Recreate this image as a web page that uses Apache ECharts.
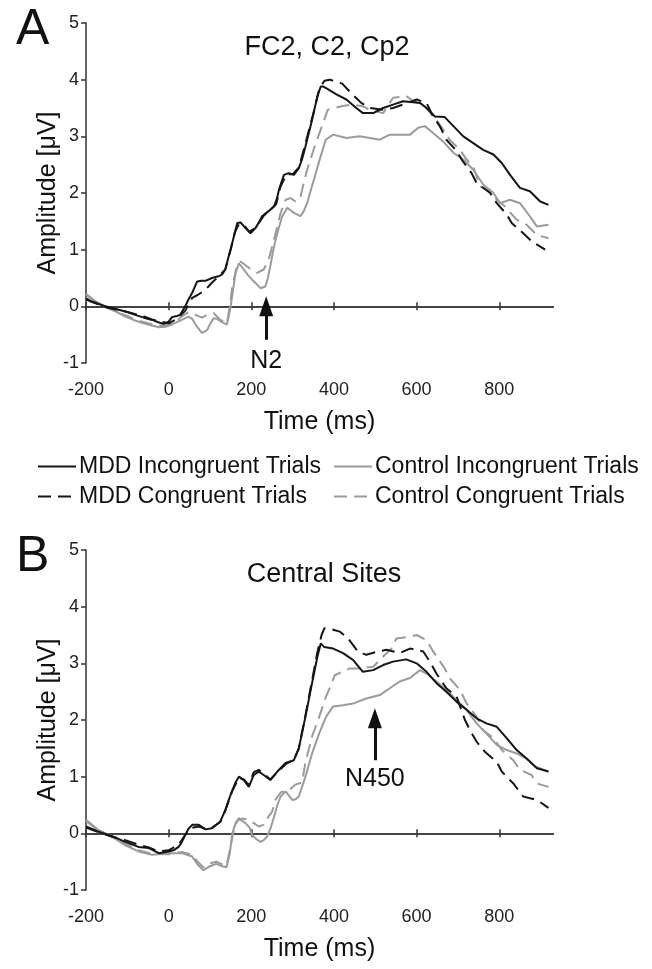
<!DOCTYPE html>
<html>
<head>
<meta charset="utf-8">
<script src="https://cdn.jsdelivr.net/npm/echarts@6/dist/echarts.min.js"></script>
<style>
html,body{margin:0;padding:0;background:#fff;}
#chart{width:652px;height:969px;}
</style>
</head>
<body>
<div id="chart"></div>
<script>
// ---------- DATA ----------
const seriesNames = ['MDD Incongruent Trials', 'MDD Congruent Trials', 'Control Incongruent Trials', 'Control Congruent Trials'];
const panelTitles = ['FC2, C2, Cp2', 'Central Sites'];
const panelLetters = ['A', 'B'];
const xTicks = [-200, 0, 200, 400, 600, 800];
const yTicks = [-1, 0, 1, 2, 3, 4, 5];
const annotations = [
  { label: 'N2', time: 236, from: -0.59, to: 0.0 },
  { label: 'N450', time: 499, from: 1.29, to: 2.03 }
];

// Panel A: [time ms, amplitude µV]
const aMddInc = [[-200,0.14],[-185,0.08],[-153,0],[-121,-0.06],[-100,-0.1],[-81,-0.15],[-60,-0.2],[-40,-0.24],[-25,-0.28],[-12,-0.31],[0,-0.27],[8,-0.19],[20,-0.17],[28,-0.15],[40,0],[48,0.12],[57,0.24],[69,0.44],[80,0.45],[89,0.45],[105,0.5],[120,0.53],[129,0.56],[137,0.65],[146,0.9],[154,1.12],[160,1.3],[166,1.47],[174,1.48],[186,1.38],[198,1.29],[210,1.38],[220,1.5],[226,1.59],[242,1.68],[255,1.76],[262,1.9],[267,2.06],[279,2.32],[291,2.35],[303,2.32],[315,2.44],[323,2.6],[331,2.82],[347,3.29],[360,3.71],[368,3.88],[373,3.88],[381,3.85],[406,3.74],[430,3.65],[454,3.5],[470,3.41],[495,3.41],[519,3.5],[543,3.56],[567,3.62],[592,3.6],[608,3.59],[624,3.5],[644,3.35],[668,3.34],[689,3.18],[713,3.0],[737,2.88],[761,2.76],[786,2.68],[806,2.53],[826,2.32],[850,2.09],[874,2.03],[899,1.85],[919,1.79]];
const aMddCon = [[-200,0.12],[-175,0.05],[-150,-0.02],[-125,-0.06],[-100,-0.1],[-80,-0.14],[-60,-0.18],[-40,-0.23],[-20,-0.27],[0,-0.3],[20,-0.22],[40,-0.08],[57,0.15],[70,0.2],[89,0.29],[105,0.42],[120,0.52],[137,0.65],[150,1.0],[160,1.3],[170,1.45],[180,1.45],[195,1.32],[210,1.38],[230,1.6],[250,1.73],[260,1.8],[270,2.1],[285,2.33],[300,2.33],[315,2.45],[330,2.85],[350,3.4],[365,3.85],[377,3.98],[390,4.0],[420,3.93],[442,3.76],[466,3.59],[487,3.5],[519,3.47],[543,3.5],[567,3.56],[600,3.65],[624,3.59],[640,3.35],[656,3.18],[672,2.94],[697,2.74],[709,2.59],[733,2.35],[745,2.18],[778,2.0],[794,1.82],[818,1.62],[830,1.47],[858,1.29],[878,1.15],[911,1.0]];
const aCtlInc = [[-200,0.22],[-178,0.09],[-145,-0.03],[-125,-0.1],[-105,-0.18],[-85,-0.24],[-65,-0.29],[-45,-0.33],[-24,-0.37],[-8,-0.36],[8,-0.32],[20,-0.28],[32,-0.24],[48,-0.18],[57,-0.22],[65,-0.32],[75,-0.42],[81,-0.47],[93,-0.42],[101,-0.3],[109,-0.21],[117,-0.22],[125,-0.26],[135,-0.3],[141,-0.32],[146,-0.15],[150,0],[156,0.3],[162,0.59],[170,0.76],[182,0.65],[192,0.55],[202,0.47],[212,0.4],[222,0.32],[234,0.35],[240,0.5],[246,0.71],[252,0.95],[259,1.18],[267,1.4],[275,1.59],[287,1.74],[303,1.65],[319,1.59],[327,1.68],[335,1.82],[346,2.1],[356,2.35],[365,2.58],[380,2.94],[398,3.03],[430,2.97],[462,3.0],[487,2.97],[511,2.94],[535,3.03],[559,3.03],[584,3.03],[604,3.15],[620,3.18],[640,3.06],[664,2.91],[689,2.71],[713,2.59],[737,2.41],[761,2.15],[786,2.0],[802,1.82],[826,1.88],[850,1.82],[874,1.59],[891,1.41],[919,1.44]];
const aCtlCon = [[-200,0.2],[-175,0.08],[-150,-0.02],[-125,-0.1],[-100,-0.17],[-75,-0.25],[-50,-0.3],[-25,-0.34],[0,-0.33],[20,-0.25],[32,-0.18],[48,-0.1],[65,-0.15],[81,-0.2],[93,-0.15],[109,-0.12],[125,-0.24],[141,-0.29],[148,0],[154,0.35],[166,0.74],[174,0.79],[194,0.68],[214,0.59],[230,0.65],[242,0.82],[255,1.18],[271,1.65],[283,1.88],[295,1.91],[307,1.85],[319,1.94],[335,2.41],[356,2.88],[372,3.2],[385,3.47],[418,3.53],[442,3.56],[470,3.53],[487,3.47],[519,3.41],[543,3.68],[575,3.71],[592,3.62],[616,3.56],[648,3.29],[664,3.12],[680,2.94],[705,2.76],[721,2.59],[737,2.47],[753,2.12],[778,2.03],[794,1.88],[814,1.76],[842,1.53],[866,1.44],[891,1.26],[919,1.2]];

// Panel B
const bMddInc = [[-200,0.12],[-170,0.03],[-137,-0.05],[-105,-0.15],[-73,-0.24],[-48,-0.26],[-24,-0.35],[0,-0.32],[12,-0.3],[24,-0.24],[32,-0.15],[40,-0.03],[48,0.08],[57,0.15],[73,0.15],[89,0.07],[105,0.09],[125,0.21],[137,0.41],[146,0.6],[154,0.76],[162,0.9],[170,1.0],[182,0.94],[194,0.82],[206,1.03],[218,1.09],[230,1.03],[246,0.94],[263,1.09],[283,1.24],[303,1.29],[315,1.5],[331,2.06],[347,2.65],[360,3.12],[368,3.35],[376,3.29],[398,3.26],[422,3.18],[446,3.06],[470,2.85],[495,2.88],[519,2.97],[543,3.03],[575,3.07],[600,3.0],[624,2.85],[648,2.65],[672,2.5],[697,2.32],[721,2.18],[745,2.03],[769,1.94],[794,1.88],[818,1.68],[842,1.47],[866,1.32],[891,1.15],[919,1.09]];
const bMddCon = [[-200,0.1],[-170,0.02],[-137,-0.06],[-105,-0.12],[-73,-0.2],[-48,-0.25],[-24,-0.32],[0,-0.3],[24,-0.2],[40,-0.03],[57,0.1],[73,0.12],[89,0.08],[105,0.1],[125,0.2],[137,0.4],[154,0.75],[170,0.98],[182,0.95],[194,0.85],[206,1.08],[218,1.12],[230,1.05],[246,0.95],[263,1.08],[283,1.22],[303,1.3],[315,1.5],[331,2.08],[347,2.7],[360,3.2],[370,3.5],[377,3.62],[395,3.6],[414,3.56],[434,3.44],[458,3.21],[478,3.15],[507,3.21],[527,3.24],[559,3.18],[584,3.26],[616,3.21],[632,3.03],[648,2.82],[672,2.56],[697,2.41],[707,2.2],[717,2.0],[729,1.82],[745,1.62],[765,1.44],[794,1.26],[806,1.09],[834,0.88],[858,0.65],[891,0.59],[919,0.45]];
const bCtlInc = [[-200,0.24],[-170,0.06],[-137,-0.06],[-105,-0.21],[-73,-0.32],[-40,-0.38],[0,-0.35],[32,-0.35],[57,-0.41],[70,-0.55],[84,-0.65],[100,-0.58],[115,-0.54],[130,-0.58],[140,-0.6],[148,-0.35],[154,0],[162,0.18],[170,0.27],[178,0.22],[186,0.18],[196,0.1],[202,-0.03],[212,-0.1],[222,-0.15],[230,-0.12],[238,-0.06],[247,0.1],[255,0.29],[263,0.5],[271,0.65],[283,0.74],[299,0.59],[307,0.6],[315,0.65],[331,1.0],[347,1.41],[364,1.76],[381,2.06],[398,2.24],[422,2.26],[446,2.29],[478,2.38],[511,2.44],[535,2.56],[559,2.68],[584,2.74],[608,2.88],[624,2.82],[648,2.68],[672,2.53],[697,2.35],[721,2.18],[745,1.94],[769,1.76],[794,1.56],[818,1.47],[842,1.41],[866,1.32],[887,1.18],[919,1.09]];
const bCtlCon = [[-200,0.22],[-170,0.05],[-137,-0.05],[-105,-0.18],[-73,-0.3],[-40,-0.36],[0,-0.37],[32,-0.33],[57,-0.38],[70,-0.5],[84,-0.6],[100,-0.53],[115,-0.5],[130,-0.55],[140,-0.57],[148,-0.3],[156,0],[166,0.22],[178,0.26],[194,0.24],[206,0.18],[218,0.12],[230,0.15],[242,0.3],[250,0.38],[259,0.6],[271,0.72],[283,0.76],[291,0.76],[307,0.86],[323,0.9],[331,1.25],[347,1.71],[364,2.05],[380,2.4],[392,2.6],[402,2.79],[438,2.91],[462,2.91],[495,2.94],[519,3.12],[539,3.26],[551,3.44],[584,3.47],[600,3.5],[624,3.41],[640,3.21],[668,2.91],[680,2.74],[705,2.53],[721,2.29],[745,2.06],[761,1.82],[786,1.68],[806,1.47],[834,1.29],[850,1.12],[878,1.03],[891,0.88],[919,0.82]];

const panelData = [
  [aMddInc, aMddCon, aCtlInc, aCtlCon],
  [bMddInc, bMddCon, bCtlInc, bCtlCon]
];

// ---------- STYLE / LAYOUT ----------
const FONT = '"Liberation Sans", Arial, Helvetica, sans-serif';
const BLACK = '#151515';
const GRAY = '#9b9b9b';
const AXIS = '#333';
const seriesStyle = [
  { color: BLACK, type: 'solid' },
  { color: BLACK, type: [13, 7] },
  { color: GRAY, type: 'solid' },
  { color: GRAY, type: [13, 7] }
];
const grids = [
  { left: 86, right: 99, top: 23, height: 340 },
  { left: 86, right: 99, top: 550, height: 340 }
];

const xAxes = [], yAxes = [], series = [], titles = [];
grids.forEach((g, gi) => {
  // labels + name at bottom
  xAxes.push({
    gridIndex: gi, type: 'value', min: -200, max: 930, position: 'bottom',
    axisLine: { show: false, onZero: false }, axisTick: { show: false }, splitLine: { show: false },
    axisLabel: { customValues: xTicks, fontSize: 18, color: '#222', margin: 18, fontFamily: FONT },
    name: 'Time (ms)', nameLocation: 'middle', nameGap: 47,
    nameTextStyle: { fontSize: 25, color: '#111', fontFamily: FONT }
  });
  // zero line with downward ticks
  xAxes.push({
    gridIndex: gi, type: 'value', min: -200, max: 930, position: 'bottom',
    axisLine: { show: true, onZero: true, onZeroAxisIndex: gi, lineStyle: { color: '#444', width: 2 } },
    axisTick: { show: true, customValues: xTicks, length: 4, inside: false, lineStyle: { color: '#333', width: 1.5 } },
    axisLabel: { show: false }, splitLine: { show: false }
  });
  // zero line with upward ticks
  xAxes.push({
    gridIndex: gi, type: 'value', min: -200, max: 930, position: 'bottom',
    axisLine: { show: true, onZero: true, onZeroAxisIndex: gi, lineStyle: { color: '#444', width: 2 } },
    axisTick: { show: true, customValues: xTicks, length: 4, inside: true, lineStyle: { color: '#333', width: 1.5 } },
    axisLabel: { show: false }, splitLine: { show: false }
  });
  yAxes.push({
    gridIndex: gi, type: 'value', min: -1, max: 5, interval: 1, position: 'left',
    axisLine: { show: true, onZero: false, lineStyle: { color: AXIS, width: 1.5 } },
    axisTick: { show: true, length: 5, lineStyle: { color: AXIS, width: 1.5 } },
    axisLabel: { fontSize: 18, color: '#222', margin: 7, fontFamily: FONT },
    splitLine: { show: false },
    name: 'Amplitude [μV]', nameLocation: 'middle', nameGap: 25, nameMoveOverlap: false,
    nameTextStyle: { fontSize: 25, color: '#111', fontFamily: FONT }
  });

  const order = [2, 3, 0, 1]; // gray first, black on top
  order.forEach(si => {
    const s = {
      type: 'line', name: seriesNames[si], xAxisIndex: gi * 3, yAxisIndex: gi,
      data: panelData[gi][si], symbol: 'none', showSymbol: false, smooth: false,
      animation: false, silent: true,
      lineStyle: { color: seriesStyle[si].color, width: 2, type: seriesStyle[si].type },
      itemStyle: { color: seriesStyle[si].color }
    };
    if (si === 0) {
      const an = annotations[gi];
      s.markLine = {
        silent: true, animation: false,
        symbol: ['none', 'triangle'], symbolSize: [14, 20],
        lineStyle: { color: '#111', width: 3, type: 'solid' },
        label: { show: true, position: 'start', formatter: an.label, fontSize: 25, color: '#111', distance: gi === 0 ? 9 : 6, fontFamily: FONT },
        data: [[{ coord: [an.time, an.from] }, { coord: [an.time, an.to] }]]
      };
    }
    series.push(s);
  });
});

titles.push({ text: panelLetters[0], left: 11, top: 0, textStyle: { fontSize: 50, fontWeight: 'normal', color: '#111', fontFamily: FONT } });
titles.push({ text: panelTitles[0], left: 322, top: 29, textAlign: 'center', textStyle: { fontSize: 27, fontWeight: 'normal', color: '#111', fontFamily: FONT } });
titles.push({ text: panelLetters[1], left: 11, top: 527, textStyle: { fontSize: 50, fontWeight: 'normal', color: '#111', fontFamily: FONT } });
titles.push({ text: panelTitles[1], left: 319, top: 556, textAlign: 'center', textStyle: { fontSize: 27, fontWeight: 'normal', color: '#111', fontFamily: FONT } });

const legendCommon = {
  orient: 'vertical', top: 455, itemWidth: 38, itemHeight: 14, itemGap: 7, selectedMode: false,
  itemStyle: { opacity: 0 },
  textStyle: { fontSize: 23, color: '#111', fontFamily: FONT, padding: [0, 0, 0, -2] }, padding: 0
};

const option = {
  backgroundColor: '#fff',
  animation: false,
  textStyle: { fontFamily: FONT },
  title: titles,
  legend: [
    Object.assign({}, legendCommon, { left: 37, data: [seriesNames[0], seriesNames[1]] }),
    Object.assign({}, legendCommon, { left: 333, data: [seriesNames[2], seriesNames[3]] })
  ],
  grid: grids,
  xAxis: xAxes,
  yAxis: yAxes,
  series: series
};

const chart = echarts.init(document.getElementById('chart'), null, { renderer: 'canvas' });
chart.setOption(option);
</script>
</body>
</html>
